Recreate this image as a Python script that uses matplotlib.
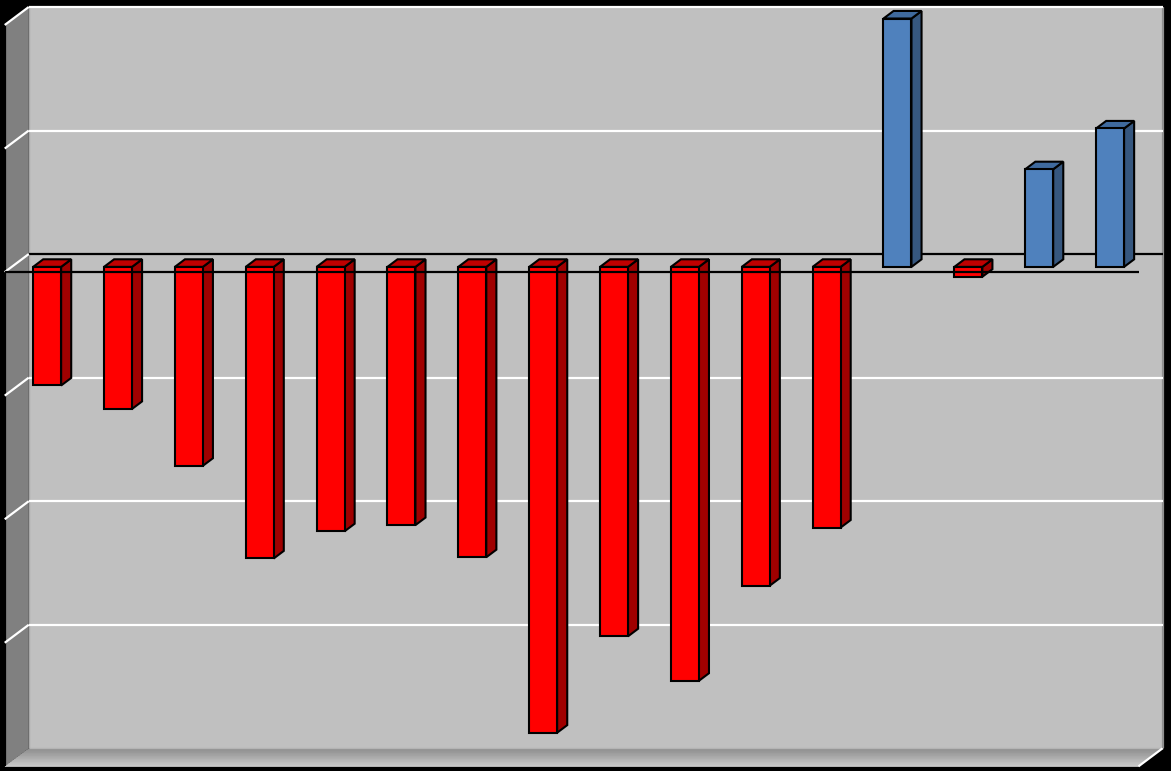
import numpy as np
import matplotlib.pyplot as plt
from matplotlib.patches import Polygon

# values (back wall grid = 1 unit)
categories = list(range(16))
values = [-0.96, -1.15, -1.61, -2.36, -2.14, -2.09, -2.35, -3.77,
          -2.99, -3.35, -2.58, -2.11, 2.01, -0.08, 0.79, 1.12]
grid_ticks = [-4, -3, -2, -1, 0, 1, 2]

red = dict(front='#ff0000', side='#a00000', top='#c00000')
blue = dict(front='#4f81bd', side='#36577f', top='#3f6a9e')

fig = plt.figure(figsize=(11.71, 7.71), dpi=100, facecolor='black')
ax = fig.add_axes([0, 0, 1, 1])
ax.set_xlim(-0.665, 15.86)
ax.set_ylim(-4.08, 2.16)
ax.axis('off')

# oblique depth: d=0 front of box, d=1 back wall, bars sit at 0.29..0.71
DX, DY = 0.339, 0.146
D_BAR0, D_BAR1 = 0.29, 0.71
xmin, xmax = -0.5, 15.5
ymin, ymax = grid_ticks[0], grid_ticks[-1]


def P(x, y, d):
    return (x + (d - D_BAR0) * DX, y + (d - D_BAR0) * DY)


def poly(pts, fc, ec='none', lw=0, z=1):
    ax.add_patch(Polygon([P(*p) for p in pts], closed=True, fc=fc, ec=ec,
                         lw=lw, zorder=z, joinstyle='miter'))


def line(p0, p1, color, lw=1.6, z=2):
    a, b = P(*p0), P(*p1)
    ax.plot([a[0], b[0]], [a[1], b[1]], color=color, lw=lw, zorder=z,
            solid_capstyle='butt')


# back wall
poly([(xmin, ymin, 1), (xmax, ymin, 1), (xmax, ymax, 1), (xmin, ymax, 1)],
     '#c0c0c0')
# left wall
poly([(xmin, ymin, 0), (xmin, ymax, 0), (xmin, ymax, 1), (xmin, ymin, 1)],
     '#808080')
# floor, shaded from back to front (strips overlap to hide seams)
n = 12
shades = np.linspace(0.56, 0.78, n)
for k in range(n):
    d0, d1 = 1 - k / n, max(0, 1 - (k + 1.6) / n)
    poly([(xmin, ymin, d0), (xmax, ymin, d0), (xmax, ymin, d1), (xmin, ymin, d1)],
         str(shades[k]), z=1 + k * 0.001)
line((xmin, ymin, 1), (xmax, ymin, 1), '#b4b4b4', lw=1.0)
line((xmin, ymin, 0), (xmax, ymin, 0), '#c8c8c8', lw=1.2)
line((xmax, ymin, 0), (xmax, ymin, 1), 'white', lw=1.6)
line((xmax, ymin, 1), (xmax, ymax, 1), '#909090', lw=1.6)
line((xmin, ymin, 1), (xmin, ymax, 1), '#a8a8a8', lw=1.0)
line((xmin, ymin, 0), (xmin, ymax, 0), 'black', lw=1.6)

# grid lines on back and left walls
for v in grid_ticks[1:]:
    back_col = 'black' if v == 0 else 'white'
    line((xmin, v, 1), (xmax, v, 1), back_col, lw=1.6)
    line((xmin, v, 1), (xmin, v, 0), 'white', lw=1.6)

# bars
w = 0.395
for i, v in zip(categories, values):
    c = blue if v > 0 else red
    x0, x1 = i - w / 2, i + w / 2
    lo, hi = min(0, v), max(0, v)
    ek = dict(ec='black', lw=1.5, z=3)
    poly([(x1, lo, D_BAR0), (x1, hi, D_BAR0), (x1, hi, D_BAR1), (x1, lo, D_BAR1)],
         c['side'], **ek)
    poly([(x0, hi, D_BAR0), (x1, hi, D_BAR0), (x1, hi, D_BAR1), (x0, hi, D_BAR1)],
         c['top'], **ek)
    poly([(x0, lo, D_BAR0), (x1, lo, D_BAR0), (x1, hi, D_BAR0), (x0, hi, D_BAR0)],
         c['front'], **ek)

# zero line at the front of the box
line((xmin, 0, 0), (xmax, 0, 0), 'black', lw=1.6, z=4)

fig.savefig('out.png', dpi=100, facecolor='black')
